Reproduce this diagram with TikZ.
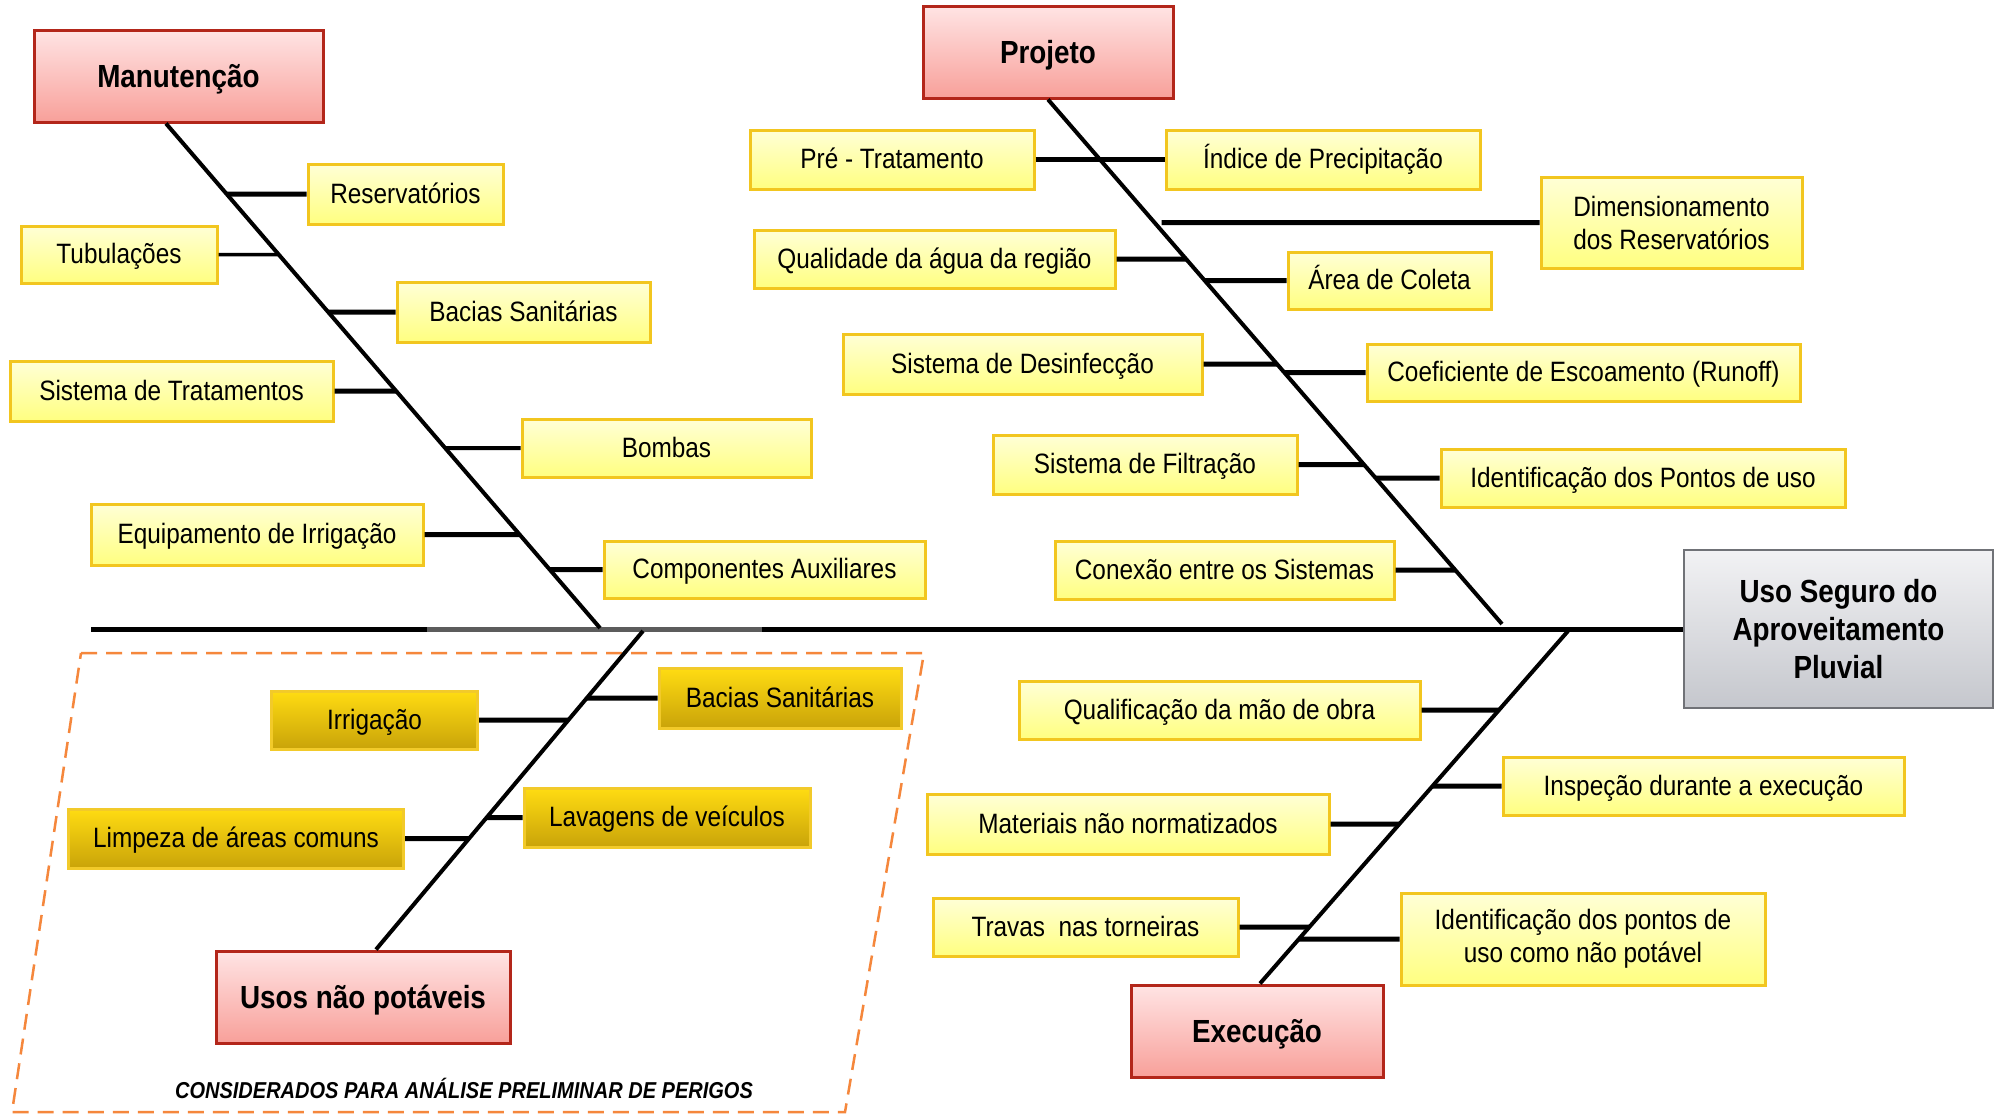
\documentclass[tikz,border=0pt]{standalone}
\usepackage{fontspec}
\setmainfont{Liberation Sans}[FakeStretch=0.87]
\definecolor{ytop}{HTML}{FFFFD6}
\definecolor{ybot}{HTML}{FFFF80}
\definecolor{ybord}{HTML}{F2C61F}
\definecolor{dtop}{HTML}{FFDC12}
\definecolor{dbot}{HTML}{C9A309}
\definecolor{dbord}{HTML}{F2CA2A}
\definecolor{rtop}{HTML}{FFE4E4}
\definecolor{rbot}{HTML}{F8A09A}
\definecolor{rbord}{HTML}{B3261A}
\definecolor{gtop}{HTML}{F2F2F4}
\definecolor{gbot}{HTML}{C5C7CD}
\definecolor{gbord}{HTML}{707277}
\definecolor{dashorange}{HTML}{F5873C}
\definecolor{spinegray}{HTML}{5C5C5C}
\begin{document}
\begin{tikzpicture}[x=1pt,y=-1pt,
  ybox/.style={draw=ybord, line width=3pt, top color=ytop, bottom color=ybot,
    inner sep=0pt, align=center, text=black, font=\fontsize{28}{32}\selectfont,
    text height=20pt, text depth=2pt},
  twoline/.style={text height={}, text depth={}, font=\fontsize{28}{33}\selectfont},
  dbox/.style={draw=dbord, line width=3pt, top color=dtop, bottom color=dbot,
    inner sep=0pt, align=center, text=black, font=\fontsize{28}{32}\selectfont,
    text height=20pt, text depth=2pt},
  tbox/.style={draw=rbord, line width=3pt, top color=rtop, bottom color=rbot,
    inner sep=0pt, align=center, text=black, font=\fontsize{32}{36}\selectfont\bfseries,
    text height=25pt, text depth=2pt},
  gbox/.style={draw=gbord, line width=2.5pt, top color=gtop, bottom color=gbot,
    inner sep=0pt, align=center, text=black, font=\fontsize{32}{38}\selectfont\bfseries},
  bone/.style={line width=4pt, black},
  spine/.style={line width=5pt, black},
  twig/.style={line width=5pt, black},
  thintwig/.style={line width=3.5pt, black}]

\fill[white] (0,0) rectangle (2002,1114);
\useasboundingbox (0,0) rectangle (2002,1114);

% area of the non-potable uses
\draw[dashorange, line width=2.5pt, dash pattern=on 16pt off 9pt]
  (81,653) -- (924,653) -- (845,1112) -- (12,1112) -- cycle;
\node[font=\fontsize{23}{26}\selectfont\bfseries\itshape] (cap) at (464,1088)
  {CONSIDERADOS PARA ANÁLISE PRELIMINAR DE PERIGOS};

% effect and category heads
\node[gbox, minimum width=309pt, minimum height=158pt] (uso) at (1838.5,629)
  {Uso Seguro do\\Aproveitamento\\Pluvial};
\node[tbox, minimum width=289pt, minimum height=92pt] (man) at (178.5,76) {Manutenção};
\node[tbox, minimum width=250pt, minimum height=92pt] (proj) at (1048,52) {Projeto};
\node[tbox, minimum width=294pt, minimum height=92pt] (usos) at (363,997) {Usos não potáveis};
\node[tbox, minimum width=252pt, minimum height=92pt] (exec) at (1257,1031) {Execução};

% Manutenção causes
\node[ybox, minimum width=195pt, minimum height=60pt] (m1) at (405.5,194) {Reservatórios};
\node[ybox, minimum width=196pt, minimum height=57pt] (m2) at (119,254.5) {Tubulações};
\node[ybox, minimum width=253pt, minimum height=60pt] (m3) at (523.5,312) {Bacias Sanitárias};
\node[ybox, minimum width=323pt, minimum height=60pt] (m4) at (171.5,391) {Sistema de Tratamentos};
\node[ybox, minimum width=289pt, minimum height=58pt] (m5) at (666.5,448) {Bombas};
\node[ybox, minimum width=332pt, minimum height=61pt] (m6) at (257,534.5) {Equipamento de Irrigação};
\node[ybox, minimum width=321pt, minimum height=57pt] (m7) at (764.5,569.5) {Componentes Auxiliares};

% Projeto causes
\node[ybox, minimum width=284pt, minimum height=59pt] (p1) at (892,159.5) {Pré - Tratamento};
\node[ybox, minimum width=314pt, minimum height=59pt] (p2) at (1323,159.5) {Índice de Precipitação};
\node[ybox, twoline, minimum width=261pt, minimum height=91pt] (p3) at (1671.5,222.5) {Dimensionamento\\dos Reservatórios};
\node[ybox, minimum width=361pt, minimum height=58pt] (p4) at (934.5,259) {Qualidade da água da região};
\node[ybox, minimum width=203pt, minimum height=57pt] (p5) at (1389.5,280.5) {Área de Coleta};
\node[ybox, minimum width=359pt, minimum height=60pt] (p6) at (1022.5,364) {Sistema de Desinfecção};
\node[ybox, minimum width=433pt, minimum height=57pt] (p7) at (1583.5,372.5) {Coeficiente de Escoamento (Runoff)};
\node[ybox, minimum width=304pt, minimum height=59pt] (p8) at (1145,464.5) {Sistema de Filtração};
\node[ybox, minimum width=404pt, minimum height=58pt] (p9) at (1643,478) {Identificação dos Pontos de uso};
\node[ybox, minimum width=339pt, minimum height=58pt] (p10) at (1224.5,570) {Conexão entre os Sistemas};

% Execução causes
\node[ybox, minimum width=401pt, minimum height=58pt] (e1) at (1219.5,710) {Qualificação da mão de obra};
\node[ybox, minimum width=401pt, minimum height=58pt] (e2) at (1703.5,786) {Inspeção durante a execução};
\node[ybox, minimum width=402pt, minimum height=60pt] (e3) at (1128,824) {Materiais não normatizados};
\node[ybox, minimum width=305pt, minimum height=58pt] (e4) at (1085.5,927) {Travas~ nas torneiras};
\node[ybox, twoline, minimum width=364pt, minimum height=92pt] (e5) at (1583,939) {Identificação dos pontos de\\uso como não potável};

% Usos não potáveis causes
\node[dbox, minimum width=206pt, minimum height=58pt] (u1) at (374.5,720) {Irrigação};
\node[dbox, minimum width=242pt, minimum height=60pt] (u2) at (780,698) {Bacias Sanitárias};
\node[dbox, minimum width=335pt, minimum height=59pt] (u3) at (236,838.5) {Limpeza de áreas comuns};
\node[dbox, minimum width=286pt, minimum height=59pt] (u4) at (667,817.5) {Lavagens de veículos};

% spine and bones
\coordinate (tail) at (91,629);
\draw[spine] (tail) -- (uso.west);
\draw[spinegray, line width=5pt] (427,629) -- (762,629);

\coordinate (mt) at ([xshift=-12.5pt]man.south);
\coordinate (mb) at (600,628);
\coordinate (pt) at (proj.south);
\coordinate (pb) at (1502,624);
\coordinate (ut) at (643,631);
\coordinate (ub) at ([xshift=13pt]usos.north);
\coordinate (et) at (1568,631);
\coordinate (eb) at ([xshift=3pt]exec.north);

\draw[bone] (mt) -- (mb);
\draw[bone] (pt) -- (pb);
\draw[bone] (ub) -- (ut);
\draw[bone] (eb) -- (et);

% Manutenção branches
\draw[twig] (m1.west) -- (intersection of m1.west--m1.east and mt--mb);
\draw[thintwig] (m2.east) -- (intersection of m2.west--m2.east and mt--mb);
\draw[twig] (m3.west) -- (intersection of m3.west--m3.east and mt--mb);
\draw[twig] (m4.east) -- (intersection of m4.west--m4.east and mt--mb);
\draw[line width=4pt] (m5.west) -- (intersection of m5.west--m5.east and mt--mb);
\draw[twig] (m6.east) -- (intersection of m6.west--m6.east and mt--mb);
\draw[twig] (m7.west) -- (intersection of m7.west--m7.east and mt--mb);

% Projeto branches
\draw[twig] (p1.east) -- (p2.west);
\draw[twig] (p3.west) -- ([xshift=7pt]intersection of p3.west--p3.east and pt--pb);
\draw[twig] (p4.east) -- (intersection of p4.west--p4.east and pt--pb);
\draw[twig] (p5.west) -- (intersection of p5.west--p5.east and pt--pb);
\draw[twig] (p6.east) -- (intersection of p6.west--p6.east and pt--pb);
\draw[twig] (p7.west) -- (intersection of p7.west--p7.east and pt--pb);
\draw[twig] (p8.east) -- (intersection of p8.west--p8.east and pt--pb);
\draw[twig] (p9.west) -- (intersection of p9.west--p9.east and pt--pb);
\draw[twig] (p10.east) -- (intersection of p10.west--p10.east and pt--pb);

% Execução branches
\draw[twig] (e1.east) -- (intersection of e1.west--e1.east and et--eb);
\draw[twig] (e2.west) -- (intersection of e2.west--e2.east and et--eb);
\draw[twig] (e3.east) -- (intersection of e3.west--e3.east and et--eb);
\draw[twig] (e4.east) -- (intersection of e4.west--e4.east and et--eb);
\draw[twig] (e5.west) -- (intersection of e5.west--e5.east and et--eb);

% Usos não potáveis branches
\draw[twig] (u1.east) -- (intersection of u1.west--u1.east and ut--ub);
\draw[twig] (u2.west) -- (intersection of u2.west--u2.east and ut--ub);
\draw[twig] (u3.east) -- (intersection of u3.west--u3.east and ut--ub);
\draw[twig] (u4.west) -- (intersection of u4.west--u4.east and ut--ub);
\end{tikzpicture}
\end{document}
